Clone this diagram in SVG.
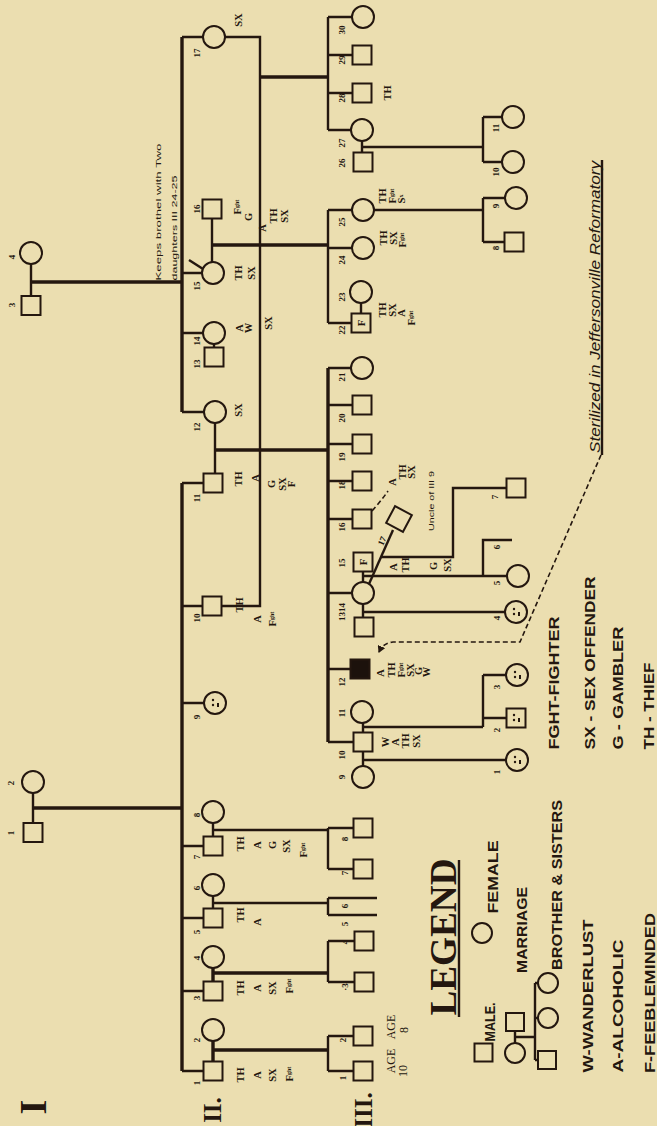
<svg xmlns="http://www.w3.org/2000/svg" width="657" height="1126" viewBox="0 0 657 1126">
<style>
.bg{fill:#ebdeb0}
.ln{stroke:#24170f;stroke-width:2.4;fill:none}
.tk{stroke-width:3.4}
.ds{stroke:#24170f;stroke-width:1.6;fill:none;stroke-dasharray:5 3}
.s{fill:none;stroke:#24170f;stroke-width:2}
.blk{fill:#1c120c;stroke:#24170f;stroke-width:2}
.dot{fill:#24170f}
text{fill:#24170f;text-anchor:middle;dominant-baseline:central}
.lb{font:bold 9px "Liberation Serif",serif}
.tr{font:bold 10.5px "Liberation Serif",serif}
.sm{font:bold 6px "Liberation Serif",serif}
.gn{font:bold 25px "Liberation Serif",serif}
.hw{font:8px "Liberation Sans",sans-serif}
.lg{font:bold 15px "Liberation Sans",sans-serif}
.ag{font:12px "Liberation Serif",serif}
</style>
<defs>
<marker id="arr" markerWidth="8" markerHeight="8" refX="6" refY="4" orient="auto" markerUnits="userSpaceOnUse"><path d="M0,0 L7,4 L0,8 Z" fill="#24170f"/></marker>
</defs>
<rect class="bg" width="657" height="1126"/>

<g id="connectors">
<!-- Gen I -->
<path class="ln" d="M31,264 V296"/>
<path class="ln tk" d="M31,282 H182"/>
<path class="ln" d="M33,793 V823"/>
<path class="ln tk" d="M33,808 H182"/>
<!-- Gen II sibships -->
<path class="ln tk" d="M182,37 V412"/>
<path class="ln tk" d="M182,483 V1071"/>
<path class="ln" d="M182,37 H203 M182,273 H202 M182,333 H203 M182,412 H204 M182,483 H203.5 M182,606 H202.5 M182,703 H204 M182,846 H203.5 M182,918 H203.5 M182,991 H203.5 M182,1071 H203.5"/>
<!-- Gen II marriages -->
<path class="ln" d="M212,218.5 V262"/>
<path class="ln tk" d="M212,245 H328"/>
<path class="ln" d="M203,269 L189,260"/>
<path class="ln" d="M214,344 V347.5"/>
<path class="ln" d="M215,423 V473.5"/>
<path class="ln tk" d="M215,450 H328"/>
<path class="ln" d="M213,823 V836.5 M213,830 H328"/>
<path class="ln" d="M213,896 V908.5 M213,903 H328"/>
<path class="ln tk" d="M213,968 V981.5 M213,973 H328"/>
<path class="ln tk" d="M213,1041 V1061.5 M213,1050 H328"/>
<path class="ln" d="M225,37 H260 V606 H221.5"/>
<path class="ln tk" d="M260,77 H328"/>
<!-- Gen III sibships -->
<path class="ln" d="M328,17 V130 M328,17 H352 M328,55 H352.5 M328,93 H352.5 M328,130 H351"/>
<path class="ln" d="M328,210 V323 M328,210 H352 M328,248 H352 M328,323 H351.5"/>
<path class="ln tk" d="M328,368 V742"/>
<path class="ln" d="M328,368 H351 M328,405 H352.5 M328,444 H352.5 M328,481 H352.5 M328,519 H352.5 M328,593 H352 M328,669 H350.5 M328,742 H353.5"/>
<path class="ln" d="M328,828 V869 M328,828 H353.5 M328,869 H353.5"/>
<path class="ln" d="M328,898 V915 M328,898 H377 M328,915 H377"/>
<path class="ln" d="M328,941 V982 M328,941 H354.5 M328,982 H354.5"/>
<path class="ln" d="M328,1036 V1071 M328,1036 H353.5 M328,1071 H353.5"/>
<!-- Gen III marriages -->
<path class="ln" d="M362,141 V152.5"/>
<path class="ln" d="M362,147 H483 M483,117 V162 M483,117 H502 M483,162 H502"/>
<path class="ln" d="M374,210 H483 M483,198 V242 M483,198 H505 M483,242 H504.5"/>
<path class="ln" d="M361,303 V313.5"/>
<path class="ln" d="M363,571.5 V582 M363,576 H507 M483,576 V540 H512"/>
<path class="ln" d="M369,584 L393,530"/>
<path class="ln" d="M381,557 H453 V488 H506.5"/>
<path class="ln" d="M363,604 V617.5 M363,612 H505"/>
<path class="ln" d="M363,723 V732.5 M363,727 H483 M483,675 V727 M483,675 H506 M483,718 H506.5"/>
<path class="ln" d="M363,751.5 V766 M363,760 H506"/>
<!-- dashed -->
<path class="ds" d="M601,455 L520,642 L393,642 Q383,643 379,652" marker-end="url(#arr)"/>
<path class="ds" d="M372,511 Q381,501 388,491"/>
</g>

<!-- Gen I -->
<g id="I-4"><circle class="s" cx="31" cy="253" r="11"/><text class="lb" x="12" y="257" transform="rotate(-90 12 257)">4</text></g>
<g id="I-3"><rect class="s" x="21.5" y="296" width="19" height="19"/><text class="lb" x="12" y="305" transform="rotate(-90 12 305)">3</text></g>
<g id="I-2"><circle class="s" cx="33" cy="782" r="11"/><text class="lb" x="11" y="783" transform="rotate(-90 11 783)">2</text></g>
<g id="I-1"><rect class="s" x="23.5" y="823" width="19" height="19"/><text class="lb" x="11" y="833" transform="rotate(-90 11 833)">1</text></g>

<!-- Gen II -->
<g id="II-17"><circle class="s" cx="214" cy="37" r="11"/><text class="lb" x="197" y="53" transform="rotate(-90 197 53)">17</text><text class="tr" x="238" y="20" transform="rotate(-90 238 20)">SX</text></g>
<g id="II-16"><rect class="s" x="202.5" y="199.5" width="19" height="19"/><text class="lb" x="197" y="209" transform="rotate(-90 197 209)">16</text>
<text class="tr" x="237" y="207" transform="rotate(-90 237 207)">F<tspan class="sm">ght</tspan></text>
<text class="tr" x="248" y="217" transform="rotate(-90 248 217)">G</text>
<text class="tr" x="262" y="228" transform="rotate(-90 262 228)">A</text>
<text class="tr" x="273" y="216" transform="rotate(-90 273 216)">TH</text>
<text class="tr" x="284" y="216" transform="rotate(-90 284 216)">SX</text></g>
<g id="II-15"><circle class="s" cx="213" cy="273" r="11"/><text class="lb" x="197" y="286" transform="rotate(-90 197 286)">15</text>
<text class="tr" x="238" y="273" transform="rotate(-90 238 273)">TH</text><text class="tr" x="251" y="273" transform="rotate(-90 251 273)">SX</text>
<text class="hw" x="158" y="212" transform="rotate(-90 158 212)" textLength="137" lengthAdjust="spacingAndGlyphs">Keeps brothel with Two</text>
<text class="hw" x="174" y="228" transform="rotate(-90 174 228)" textLength="105" lengthAdjust="spacingAndGlyphs">daughters III 24-25</text></g>
<g id="II-14"><circle class="s" cx="214" cy="333" r="11"/><text class="lb" x="197" y="341" transform="rotate(-90 197 341)">14</text>
<text class="tr" x="239" y="328" transform="rotate(-90 239 328)">A</text><text class="tr" x="248" y="328" transform="rotate(-90 248 328)">W</text><text class="tr" x="268" y="323" transform="rotate(-90 268 323)">SX</text></g>
<g id="II-13"><rect class="s" x="204.5" y="347.5" width="19" height="19"/><text class="lb" x="197" y="364" transform="rotate(-90 197 364)">13</text></g>
<g id="II-12"><circle class="s" cx="215" cy="412" r="11"/><text class="lb" x="197" y="427" transform="rotate(-90 197 427)">12</text><text class="tr" x="238" y="410" transform="rotate(-90 238 410)">SX</text></g>
<g id="II-11"><rect class="s" x="203.5" y="473.5" width="19" height="19"/><text class="lb" x="197" y="498" transform="rotate(-90 197 498)">11</text>
<text class="tr" x="238" y="479" transform="rotate(-90 238 479)">TH</text><text class="tr" x="255" y="478" transform="rotate(-90 255 478)">A</text><text class="tr" x="271" y="484" transform="rotate(-90 271 484)">G</text><text class="tr" x="282" y="484" transform="rotate(-90 282 484)">SX</text><text class="tr" x="291" y="484" transform="rotate(-90 291 484)">F</text></g>
<g id="II-10"><rect class="s" x="202.5" y="596.5" width="19" height="19"/><text class="lb" x="197" y="618" transform="rotate(-90 197 618)">10</text>
<text class="tr" x="239" y="605" transform="rotate(-90 239 605)">TH</text><text class="tr" x="257" y="619" transform="rotate(-90 257 619)">A</text><text class="tr" x="272" y="619" transform="rotate(-90 272 619)">F<tspan class="sm">ght</tspan></text></g>
<g id="II-9"><circle class="s" cx="215" cy="703" r="11"/><circle class="dot" cx="213" cy="700" r="1.2"/><circle class="dot" cx="213" cy="705" r="1.2"/><path class="s" d="M218,703 V707" stroke-width="1"/><text class="lb" x="197" y="717" transform="rotate(-90 197 717)">9</text></g>
<g id="II-8"><circle class="s" cx="213" cy="812" r="11"/><text class="lb" x="197" y="815" transform="rotate(-90 197 815)">8</text></g>
<g id="II-7"><rect class="s" x="203.5" y="836.5" width="19" height="19"/><text class="lb" x="197" y="857" transform="rotate(-90 197 857)">7</text>
<text class="tr" x="240" y="844" transform="rotate(-90 240 844)">TH</text><text class="tr" x="257" y="845" transform="rotate(-90 257 845)">A</text><text class="tr" x="272" y="845" transform="rotate(-90 272 845)">G</text><text class="tr" x="286" y="846" transform="rotate(-90 286 846)">SX</text><text class="tr" x="303" y="850" transform="rotate(-90 303 850)">F<tspan class="sm">ght</tspan></text></g>
<g id="II-6"><circle class="s" cx="213" cy="885" r="11"/><text class="lb" x="197" y="888" transform="rotate(-90 197 888)">6</text></g>
<g id="II-5"><rect class="s" x="203.5" y="908.5" width="19" height="19"/><text class="lb" x="197" y="932" transform="rotate(-90 197 932)">5</text>
<text class="tr" x="240" y="915" transform="rotate(-90 240 915)">TH</text><text class="tr" x="257" y="922" transform="rotate(-90 257 922)">A</text></g>
<g id="II-4"><circle class="s" cx="213" cy="957" r="11"/><text class="lb" x="197" y="958" transform="rotate(-90 197 958)">4</text></g>
<g id="II-3"><rect class="s" x="203.5" y="981.5" width="19" height="19"/><text class="lb" x="197" y="998" transform="rotate(-90 197 998)">3</text>
<text class="tr" x="240" y="988" transform="rotate(-90 240 988)">TH</text><text class="tr" x="257" y="988" transform="rotate(-90 257 988)">A</text><text class="tr" x="272" y="988" transform="rotate(-90 272 988)">SX</text><text class="tr" x="289" y="986" transform="rotate(-90 289 986)">F<tspan class="sm">ght</tspan></text></g>
<g id="II-2"><circle class="s" cx="213" cy="1030" r="11"/><text class="lb" x="197" y="1040" transform="rotate(-90 197 1040)">2</text></g>
<g id="II-1"><rect class="s" x="203.5" y="1061.5" width="19" height="19"/><text class="lb" x="197" y="1083" transform="rotate(-90 197 1083)">1</text>
<text class="tr" x="240" y="1075" transform="rotate(-90 240 1075)">TH</text><text class="tr" x="257" y="1075" transform="rotate(-90 257 1075)">A</text><text class="tr" x="272" y="1075" transform="rotate(-90 272 1075)">SX</text><text class="tr" x="289" y="1074" transform="rotate(-90 289 1074)">F<tspan class="sm">ght</tspan></text></g>

<!-- Gen III -->
<g id="III-30"><circle class="s" cx="363" cy="17" r="11"/><text class="lb" x="342" y="30" transform="rotate(-90 342 30)">30</text></g>
<g id="III-29"><rect class="s" x="352.5" y="45.5" width="19" height="19"/><text class="lb" x="342" y="60" transform="rotate(-90 342 60)">29</text></g>
<g id="III-28"><rect class="s" x="352.5" y="83.5" width="19" height="19"/><text class="lb" x="342" y="98" transform="rotate(-90 342 98)">28</text><text class="tr" x="387" y="93" transform="rotate(-90 387 93)">TH</text></g>
<g id="III-27"><circle class="s" cx="362" cy="130" r="11"/><text class="lb" x="342" y="143" transform="rotate(-90 342 143)">27</text></g>
<g id="III-26"><rect class="s" x="353.5" y="152.5" width="19" height="19"/><text class="lb" x="342" y="163" transform="rotate(-90 342 163)">26</text></g>
<g id="III-25"><circle class="s" cx="363" cy="210" r="11"/><text class="lb" x="342" y="222" transform="rotate(-90 342 222)">25</text>
<text class="tr" x="382" y="196" transform="rotate(-90 382 196)">TH</text><text class="tr" x="392" y="196" transform="rotate(-90 392 196)">F<tspan class="sm">ght</tspan></text><text class="tr" x="401" y="199" transform="rotate(-90 401 199)">S<tspan class="sm">x</tspan></text></g>
<g id="III-24"><circle class="s" cx="363" cy="248" r="11"/><text class="lb" x="342" y="260" transform="rotate(-90 342 260)">24</text>
<text class="tr" x="383" y="238" transform="rotate(-90 383 238)">TH</text><text class="tr" x="393" y="238" transform="rotate(-90 393 238)">SX</text><text class="tr" x="402" y="240" transform="rotate(-90 402 240)">F<tspan class="sm">ght</tspan></text></g>
<g id="III-23"><circle class="s" cx="361" cy="292" r="11"/><text class="lb" x="342" y="297" transform="rotate(-90 342 297)">23</text></g>
<g id="III-22"><rect class="s" x="351.5" y="313.5" width="19" height="19"/><text class="tr" x="361" y="323" transform="rotate(-90 361 323)">F</text><text class="lb" x="342" y="330" transform="rotate(-90 342 330)">22</text>
<text class="tr" x="382" y="310" transform="rotate(-90 382 310)">TH</text><text class="tr" x="392" y="310" transform="rotate(-90 392 310)">SX</text><text class="tr" x="401" y="313" transform="rotate(-90 401 313)">A</text><text class="tr" x="411" y="318" transform="rotate(-90 411 318)">F<tspan class="sm">ght</tspan></text></g>
<g id="III-21"><circle class="s" cx="362" cy="368" r="11"/><text class="lb" x="342" y="377" transform="rotate(-90 342 377)">21</text></g>
<g id="III-20"><rect class="s" x="352.5" y="395.5" width="19" height="19"/><text class="lb" x="342" y="418" transform="rotate(-90 342 418)">20</text></g>
<g id="III-19"><rect class="s" x="352.5" y="434.5" width="19" height="19"/><text class="lb" x="342" y="457" transform="rotate(-90 342 457)">19</text></g>
<g id="III-18"><rect class="s" x="352.5" y="471.5" width="19" height="19"/><text class="lb" x="342" y="485" transform="rotate(-90 342 485)">18</text></g>
<g id="III-16"><rect class="s" x="352.5" y="509.5" width="19" height="19"/><text class="lb" x="342" y="527" transform="rotate(-90 342 527)">16</text>
<text class="tr" x="392" y="482" transform="rotate(-90 392 482)">A</text><text class="tr" x="402" y="472" transform="rotate(-90 402 472)">TH</text><text class="tr" x="411" y="472" transform="rotate(-90 411 472)">SX</text></g>
<g id="III-17"><rect class="s" x="389.5" y="509.5" width="19" height="19" transform="rotate(28 399 519)"/><text class="lb" x="382" y="541" transform="rotate(-66 382 541)">17</text>
<text class="tr" x="393" y="567" transform="rotate(-90 393 567)">A</text><text class="tr" x="405" y="565" transform="rotate(-90 405 565)">TH</text><text class="tr" x="433" y="566" transform="rotate(-90 433 566)">G</text><text class="tr" x="447" y="565" transform="rotate(-90 447 565)">SX</text>
<text class="hw" x="431" y="501" transform="rotate(-90 431 501)" font-weight="bold" textLength="60" lengthAdjust="spacingAndGlyphs">Uncle of III 9</text></g>
<g id="III-15"><rect class="s" x="353.5" y="552.5" width="19" height="19"/><text class="tr" x="363" y="562" transform="rotate(-90 363 562)">F</text><text class="lb" x="342" y="563" transform="rotate(-90 342 563)">15</text></g>
<g id="III-14"><circle class="s" cx="363" cy="593" r="11"/></g>
<g id="III-13"><rect class="s" x="354.5" y="617.5" width="19" height="19"/><text class="lb" x="342" y="612" transform="rotate(-90 342 612)">1314</text></g>
<g id="III-12"><rect class="blk" x="350.5" y="659.5" width="19" height="19"/><text class="lb" x="342" y="682" transform="rotate(-90 342 682)">12</text>
<text class="tr" x="380" y="673" transform="rotate(-90 380 673)">A</text><text class="tr" x="391" y="670" transform="rotate(-90 391 670)">TH</text><text class="tr" x="401" y="670" transform="rotate(-90 401 670)">F<tspan class="sm">ght</tspan></text><text class="tr" x="410" y="670" transform="rotate(-90 410 670)">SX</text><text class="tr" x="418" y="671" transform="rotate(-90 418 671)">G</text><text class="tr" x="426" y="672" transform="rotate(-90 426 672)">W</text></g>
<g id="III-11"><circle class="s" cx="362" cy="712" r="11"/><text class="lb" x="342" y="713" transform="rotate(-90 342 713)">11</text></g>
<g id="III-10"><rect class="s" x="353.5" y="732.5" width="19" height="19"/><text class="lb" x="342" y="755" transform="rotate(-90 342 755)">10</text>
<text class="tr" x="385" y="742" transform="rotate(-90 385 742)">W</text><text class="tr" x="395" y="742" transform="rotate(-90 395 742)">A</text><text class="tr" x="405" y="741" transform="rotate(-90 405 741)">TH</text><text class="tr" x="416" y="741" transform="rotate(-90 416 741)">SX</text></g>
<g id="III-9"><circle class="s" cx="363" cy="777" r="11"/><text class="lb" x="342" y="777" transform="rotate(-90 342 777)">9</text></g>
<g id="III-8"><rect class="s" x="353.5" y="818.5" width="19" height="19"/><text class="lb" x="345" y="839" transform="rotate(-90 345 839)">8</text></g>
<g id="III-7"><rect class="s" x="353.5" y="859.5" width="19" height="19"/><text class="lb" x="345" y="873" transform="rotate(-90 345 873)">7</text></g>
<g id="III-6"><text class="lb" x="345" y="906" transform="rotate(-90 345 906)">6</text></g>
<g id="III-5"><text class="lb" x="345" y="924" transform="rotate(-90 345 924)">5</text></g>
<g id="III-4"><rect class="s" x="354.5" y="931.5" width="19" height="19"/><text class="lb" x="345" y="942" transform="rotate(-90 345 942)">4</text></g>
<g id="III-3"><rect class="s" x="354.5" y="972.5" width="19" height="19"/><text class="lb" x="345" y="987" transform="rotate(-90 345 987)">·3</text></g>
<g id="III-2"><rect class="s" x="353.5" y="1026.5" width="19" height="19"/><text class="lb" x="343" y="1040" transform="rotate(-90 343 1040)">2</text>
<text class="ag" x="391" y="1027" transform="rotate(-90 391 1027)">AGE</text><text class="ag" x="404" y="1030" transform="rotate(-90 404 1030)">8</text></g>
<g id="III-1"><rect class="s" x="353.5" y="1061.5" width="19" height="19"/><text class="lb" x="343" y="1078" transform="rotate(-90 343 1078)">1</text>
<text class="ag" x="391" y="1061" transform="rotate(-90 391 1061)">AGE</text><text class="ag" x="403" y="1071" transform="rotate(-90 403 1071)">10</text></g>

<!-- Gen IV -->
<g id="IV-11"><circle class="s" cx="513" cy="117" r="11"/><text class="lb" x="496" y="128" transform="rotate(-90 496 128)">11</text></g>
<g id="IV-10"><circle class="s" cx="513" cy="162" r="11"/><text class="lb" x="496" y="172" transform="rotate(-90 496 172)">10</text></g>
<g id="IV-9"><circle class="s" cx="516" cy="198" r="11"/><text class="lb" x="496" y="206" transform="rotate(-90 496 206)">9</text></g>
<g id="IV-8"><rect class="s" x="504.5" y="232.5" width="19" height="19"/><text class="lb" x="496" y="248" transform="rotate(-90 496 248)">8</text></g>
<g id="IV-7"><rect class="s" x="506.5" y="478.5" width="19" height="19"/><text class="lb" x="495" y="497" transform="rotate(-90 495 497)">7</text></g>
<g id="IV-6"><text class="lb" x="497" y="547" transform="rotate(-90 497 547)">6</text></g>
<g id="IV-5"><circle class="s" cx="518" cy="576" r="11"/><text class="lb" x="497" y="583" transform="rotate(-90 497 583)">5</text></g>
<g id="IV-4"><circle class="s" cx="516" cy="612" r="11"/><circle class="dot" cx="514" cy="609" r="1.2"/><circle class="dot" cx="514" cy="614" r="1.2"/><path class="s" d="M519,612 V616" stroke-width="1"/><text class="lb" x="497" y="618" transform="rotate(-90 497 618)">4</text></g>
<g id="IV-3"><circle class="s" cx="517" cy="675" r="11"/><circle class="dot" cx="515" cy="672" r="1.2"/><circle class="dot" cx="515" cy="677" r="1.2"/><path class="s" d="M520,675 V679" stroke-width="1"/><text class="lb" x="497" y="687" transform="rotate(-90 497 687)">3</text></g>
<g id="IV-2"><rect class="s" x="506.5" y="708.5" width="19" height="19"/><circle class="dot" cx="514" cy="715" r="1.2"/><circle class="dot" cx="514" cy="720" r="1.2"/><path class="s" d="M519,718 V722" stroke-width="1"/><text class="lb" x="497" y="730" transform="rotate(-90 497 730)">2</text></g>
<g id="IV-1"><circle class="s" cx="517" cy="760" r="11"/><circle class="dot" cx="515" cy="757" r="1.2"/><circle class="dot" cx="515" cy="762" r="1.2"/><path class="s" d="M520,760 V764" stroke-width="1"/><text class="lb" x="497" y="772" transform="rotate(-90 497 772)">1</text></g>

<!-- generation labels -->
<g id="gen-labels">
<text x="33" y="1107" transform="rotate(-90 33 1107)" style="font:bold 38px 'Liberation Serif',serif">I</text>
<text class="gn" x="212" y="1110" transform="rotate(-90 212 1110)">II.</text>
<text class="gn" x="363" y="1110" transform="rotate(-90 363 1110)">III.</text>
</g>

<g id="sterilized">
<text x="594" y="307" transform="rotate(-90 594 307)" style="font:italic 15px 'Liberation Sans',sans-serif" textLength="292" lengthAdjust="spacingAndGlyphs">Sterilized in Jeffersonville Reformatory</text>
<path class="ln" stroke-width="1.6" d="M602,160 V455"/>
</g>

<g id="legend">
<text x="443" y="937" transform="rotate(-90 443 937)" style="font:bold 38px 'Liberation Serif',serif" textLength="157" lengthAdjust="spacingAndGlyphs">LEGEND</text>
<path class="ln" stroke-width="3" d="M459,860 V1017"/>
<rect class="s" x="474.5" y="1043.5" width="18" height="18"/>
<text class="lg" x="489" y="1022" transform="rotate(-90 489 1022)" textLength="39" lengthAdjust="spacingAndGlyphs">MALE.</text>
<circle class="s" cx="482" cy="933" r="10"/>
<text class="lg" x="492" y="877" transform="rotate(-90 492 877)" textLength="73" lengthAdjust="spacingAndGlyphs">FEMALE</text>
<rect class="s" x="506" y="1013" width="18" height="18"/>
<circle class="s" cx="515" cy="1053" r="10"/>
<path class="ln" stroke-width="2" d="M515,1031 V1043 M515,1037 H535 M535,983 V1060 M535,983 H538 M535,1018 H538 M535,1060 H538"/>
<text class="lg" x="521" y="930" transform="rotate(-90 521 930)" textLength="86" lengthAdjust="spacingAndGlyphs">MARRIAGE</text>
<circle class="s" cx="548" cy="983" r="10"/>
<circle class="s" cx="548" cy="1018" r="10"/>
<rect class="s" x="538" y="1051" width="18" height="18"/>
<text class="lg" x="556" y="885" transform="rotate(-90 556 885)" textLength="170" lengthAdjust="spacingAndGlyphs">BROTHER &amp; SISTERS</text>
<text class="lg" x="587" y="996" transform="rotate(-90 587 996)" textLength="153" lengthAdjust="spacingAndGlyphs">W-WANDERLUST</text>
<text class="lg" x="617" y="1006" transform="rotate(-90 617 1006)" textLength="133" lengthAdjust="spacingAndGlyphs">A-ALCOHOLIC</text>
<text class="lg" x="649" y="993" transform="rotate(-90 649 993)" textLength="160" lengthAdjust="spacingAndGlyphs">F-FEEBLEMINDED</text>
<text class="lg" x="553" y="683" transform="rotate(-90 553 683)" textLength="133" lengthAdjust="spacingAndGlyphs">FGHT-FIGHTER</text>
<text class="lg" x="589" y="663" transform="rotate(-90 589 663)" textLength="173" lengthAdjust="spacingAndGlyphs">SX - SEX OFFENDER</text>
<text class="lg" x="617" y="688" transform="rotate(-90 617 688)" textLength="123" lengthAdjust="spacingAndGlyphs">G - GAMBLER</text>
<text class="lg" x="648" y="706" transform="rotate(-90 648 706)" textLength="87" lengthAdjust="spacingAndGlyphs">TH - THIEF</text>
</g>
</svg>
